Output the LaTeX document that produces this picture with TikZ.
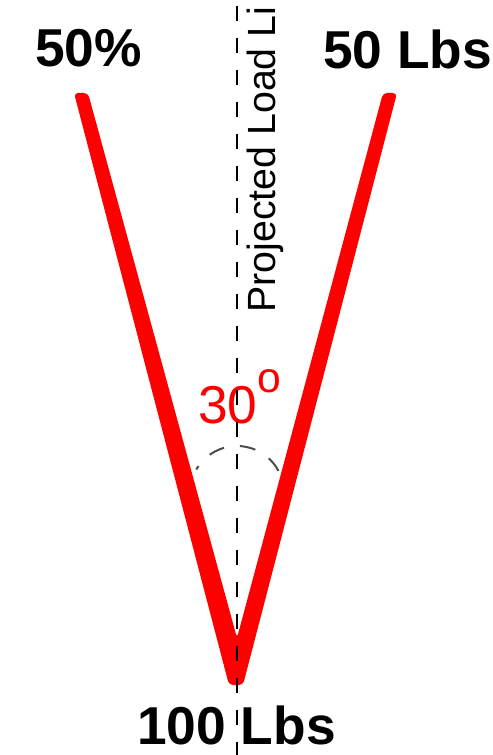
\documentclass[tikz,border=0pt]{standalone}
\usepackage{fontspec}
\setmainfont{Liberation Sans}
\begin{document}
\begin{tikzpicture}[x=0.75pt,y=-0.75pt,
        lbl/.style={font=\fontsize{40}{40}\selectfont\bfseries,inner sep=0pt,anchor=base}]
        \useasboundingbox (0,0) rectangle (492,755);

        % punti
        \coordinate (lto) at (74,93);
        \coordinate (lti) at (88,93);
        \coordinate (rti) at (383,93);
        \coordinate (rto) at (397,93);
        \coordinate (notch) at (237,638);
        \coordinate (lbot) at (229,685);
        \coordinate (rbot) at (243,685);
        \coordinate (arcc) at (237,493);
        \coordinate (top) at (237,0);
        \coordinate (bot) at (237,755);

        % funi
        \fill[red,rounded corners=3pt] (lbot) -- (lto) -- (lti) -- (notch) -- (rti) -- (rto) -- (rbot) -- cycle;

        % angolo
        \draw[black!70,line width=1.5pt,dash pattern=on 12pt off 12pt]
              (arcc) ++(28:35.25pt) arc[start angle=28,end angle=150,radius=35.25pt];
        \node[red,inner sep=0pt,anchor=base west,font=\fontsize{40}{40}\selectfont] (ang) at (198,423)
              {30\raisebox{23pt}{\fontsize{32}{32}\selectfont o}};

        % testi
        \node[lbl] (pct) at (88.5,67) {50\%};
        \node[lbl] (fifty) at (407.5,69) {50 Lbs};
        \node[lbl] (hundred) at (236.5,744) {100 Lbs};
        \node[rotate=90,anchor=base west,inner sep=0pt,font=\fontsize{29.5}{29.5}\selectfont] (proj) at (275,313)
              {Projected Load Li};

        % linea di carico
        \draw[line width=1.9pt,dash pattern=on 11.25pt off 12.75pt,dash phase=19.5pt] (top) -- (bot);
    \end{tikzpicture}
\end{document}
